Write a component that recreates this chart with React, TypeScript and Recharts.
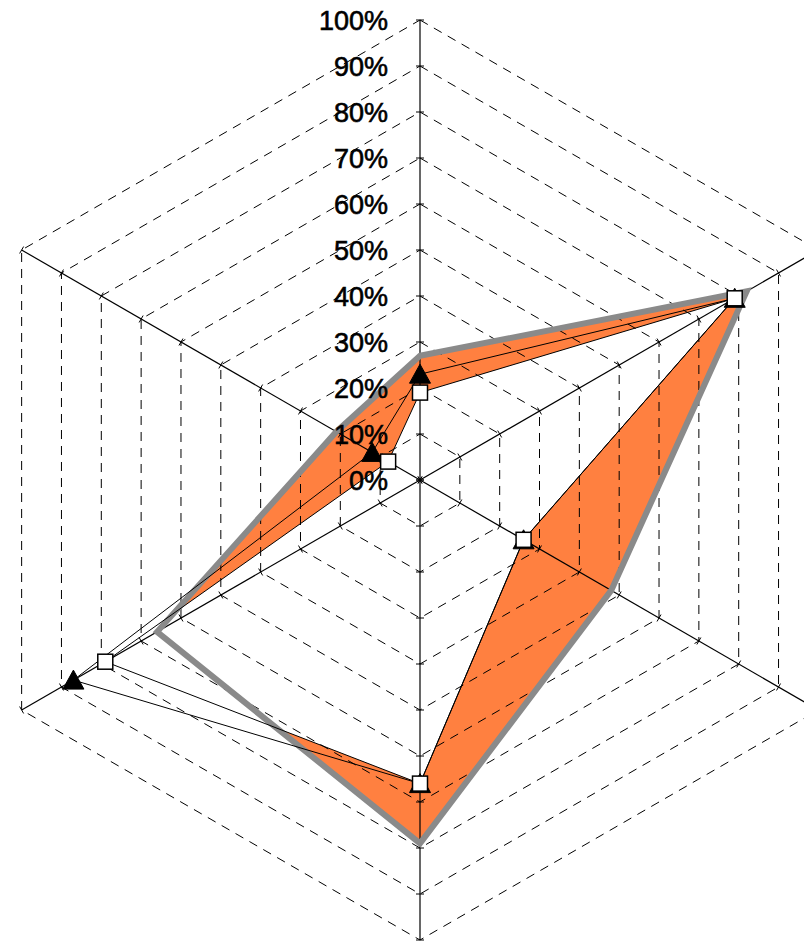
import React from 'react';
import { RadarChart, Radar, PolarGrid, PolarAngleAxis, PolarRadiusAxis } from 'recharts';

// ── Data ─────────────────────────────────────────────────
const categories = ['1', '2', '3', '4', '5', '6'];
const bandValues = [27, 82, 48, 79, 66, 21];
const triangleValues = [23, 79, 26, 66, 87, 12];
const squareValues = [19, 79, 26, 66, 79, 8];
const tickValues = [0, 10, 20, 30, 40, 50, 60, 70, 80, 90, 100];
const tickLabels = ['0%', '10%', '20%', '30%', '40%', '50%', '60%', '70%', '80%', '90%', '100%'];

const data = categories.map((name, i) => ({
  name,
  band: bandValues[i],
  triangle: triangleValues[i],
  square: squareValues[i],
}));

// spokes, clockwise from the top like the radar itself
const spokeAngles = [90, 30, -30, -90, -150, 150];

const FONT = '"Liberation Sans", Arial, sans-serif';

// ── Ticks & markers ──────────────────────────────────────
const makeSpokeTick = (angle: number) => (props: any) => {
  const { x, y, index } = props;
  const rad = (angle * Math.PI) / 180;
  const dx = Math.sin(rad) * 4;
  const dy = Math.cos(rad) * 4;
  return (
    <line
      key={`tick-${angle}-${index}`}
      x1={x - dx}
      y1={y - dy}
      x2={x + dx}
      y2={y + dy}
      stroke="#000"
      strokeWidth={1}
    />
  );
};

const renderLabelTick = (props: any) => {
  const { x, y, index, payload } = props;
  const i = tickValues.indexOf(payload.value);
  return (
    <text
      key={`label-${index}`}
      x={x - 32}
      y={y}
      dy="0.36em"
      textAnchor="end"
      fontSize={27}
      fontFamily={FONT}
      fill="#000"
      stroke="#000"
      strokeWidth={0.6}
    >
      {i >= 0 ? tickLabels[i] : `${payload.value}%`}
    </text>
  );
};

const renderTriangle = (props: any) => {
  const { cx, cy, index } = props;
  const pts = `${cx},${cy - 10} ${cx + 10.5},${cy + 9} ${cx - 10.5},${cy + 9}`;
  return <polygon key={`tri-${index}`} points={pts} fill="#000" stroke="#000" strokeWidth={1} />;
};

const renderSquare = (props: any) => {
  const { cx, cy, index } = props;
  return (
    <rect
      key={`sq-${index}`}
      x={cx - 7.5}
      y={cy - 7.5}
      width={15}
      height={15}
      fill="#fff"
      stroke="#000"
      strokeWidth={1.5}
    />
  );
};

// ── Component ────────────────────────────────────────────
export default function App() {
  return (
    <div style={{ position: 'absolute', left: 0, top: 0, width: 804, height: 941, overflow: 'hidden', background: '#fff' }}>
      <RadarChart
        width={804}
        height={941}
        cx={420}
        cy={480}
        outerRadius={460}
        data={data}
        margin={{ top: 0, right: 0, bottom: 0, left: 0 }}
      >
        <PolarAngleAxis dataKey="name" tick={false} axisLine={false} />

        {/* fills first, grid drawn over them */}
        <Radar
          dataKey="band"
          stroke="none"
          fill="#FF8040"
          fillOpacity={1}
          dot={false}
          zIndex={10}
          isAnimationActive={false}
        />
        <Radar
          dataKey="square"
          stroke="none"
          fill="#fff"
          fillOpacity={1}
          dot={false}
          zIndex={20}
          isAnimationActive={false}
        />

        <PolarGrid
          gridType="polygon"
          radialLines={false}
          stroke="#000"
          strokeWidth={1}
          strokeDasharray="9 7"
          zIndex={30}
        />

        <PolarRadiusAxis
          angle={90}
          domain={[0, 100]}
          ticks={tickValues as any}
          tickCount={11}
          allowDataOverflow
          axisLine={{ stroke: '#000', strokeWidth: 1.2 }}
          tick={makeSpokeTick(90)}
          zIndex={40}
        />
        {spokeAngles.slice(1).map((a, i) => (
          <PolarRadiusAxis
            key={a}
            radiusAxisId={`spoke${i}`}
            angle={a}
            domain={[0, 100]}
            ticks={tickValues as any}
            tickCount={11}
            allowDataOverflow
            axisLine={{ stroke: '#000', strokeWidth: 1.2 }}
            tick={makeSpokeTick(a)}
            zIndex={40}
          />
        ))}

        {/* outlines and markers */}
        <Radar
          dataKey="band"
          stroke="#8a8a8a"
          strokeWidth={6}
          strokeLinejoin="miter"
          fill="none"
          fillOpacity={0}
          dot={false}
          zIndex={50}
          isAnimationActive={false}
        />
        <Radar
          dataKey="triangle"
          stroke="#000"
          strokeWidth={1}
          fill="none"
          fillOpacity={0}
          dot={renderTriangle}
          zIndex={60}
          isAnimationActive={false}
        />
        <Radar
          dataKey="square"
          stroke="#000"
          strokeWidth={1}
          fill="none"
          fillOpacity={0}
          dot={renderSquare}
          zIndex={70}
          isAnimationActive={false}
        />

        <PolarRadiusAxis
          radiusAxisId="labels"
          angle={90}
          domain={[0, 100]}
          ticks={tickValues as any}
          tickCount={11}
          allowDataOverflow
          axisLine={false}
          tick={renderLabelTick}
          zIndex={80}
        />
      </RadarChart>
    </div>
  );
}
